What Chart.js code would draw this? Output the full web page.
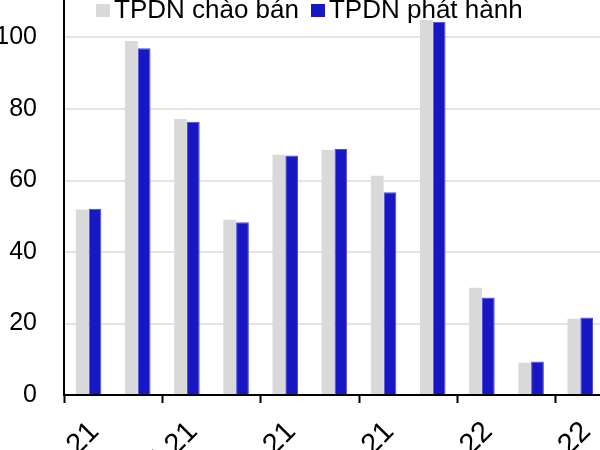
<!DOCTYPE html>
<html>
<head>
<meta charset="utf-8">
<script src="https://cdn.jsdelivr.net/npm/chart.js@4.4.0/dist/chart.umd.min.js"></script>
<style>
  html, body { margin: 0; padding: 0; width: 600px; height: 450px; overflow: hidden; background: #fff; }
  body { position: relative; }
  #wrap { position: absolute; left: -6px; top: -76px; width: 623px; height: 551px; }
  #legend { position: absolute; left: 96px; top: -1px; display: flex; font-family: "Liberation Sans", Arial, sans-serif; font-size: 26px; line-height: 20px; color: #000; white-space: nowrap; }
  .item { display: flex; align-items: center; margin-right: 12px; }
  .box { width: 14px; height: 13px; margin-right: 4px; position: relative; top: 1px; }
</style>
</head>
<body>
<div id="wrap"><canvas id="chart"></canvas></div>
<div id="legend"></div>
<script>
// monthly corporate bond volumes
const categories = ['May-21', 'Jun-21', 'Jul-21', 'Aug-21', 'Sep-21', 'Oct-21', 'Nov-21', 'Dec-21', 'Jan-22', 'Feb-22', 'Mar-22'];
const offered = [51.9, 99.0, 77.2, 49.0, 67.2, 68.5, 61.3, 104.9, 30.0, 9.0, 21.3];
const issued = [52.1, 97.0, 76.4, 48.3, 67.0, 68.8, 56.7, 104.4, 27.3, 9.4, 21.7];
const seriesNames = ['TPDN chào bán', 'TPDN phát hành'];
const seriesColors = ['#d9d9d9', '#1717c4'];
const yTicks = [0, 20, 40, 60, 80, 100, 120];

const font = { family: '"Liberation Sans", Arial, sans-serif', size: 25 };

// legend sits over the plot like the original, so it is plain html
const legendEl = document.getElementById('legend');
seriesNames.forEach(function (name, i) {
  const item = document.createElement('div');
  item.className = 'item';
  const box = document.createElement('span');
  box.className = 'box';
  box.style.background = seriesColors[i];
  item.appendChild(box);
  item.appendChild(document.createTextNode(name));
  legendEl.appendChild(item);
});

const ctx = document.getElementById('chart').getContext('2d');
const chart = new Chart(ctx, {
  type: 'bar',
  data: {
    labels: categories,
    datasets: [
      { label: seriesNames[0], data: offered, backgroundColor: seriesColors[0], borderWidth: 0 },
      { label: seriesNames[1], data: issued, backgroundColor: seriesColors[1], borderColor: '#4b4bd9', borderWidth: 1 }
    ]
  },
  options: {
    responsive: true,
    maintainAspectRatio: false,
    animation: false,
    layout: { padding: { top: 20, right: 3, left: 0, bottom: 0 } },
    datasets: { bar: { categoryPercentage: 0.52, barPercentage: 1.0 } },
    plugins: { legend: { display: false }, tooltip: { enabled: false } },
    scales: {
      x: {
        offset: true,
        afterFit: function (s) { s.height = 80; },
        border: { color: '#000', width: 2 },
        grid: {
          offset: true,
          drawOnChartArea: false,
          tickLength: 8,
          tickWidth: 2,
          tickColor: function (c) { return c.index % 2 === 0 ? '#000' : 'rgba(0,0,0,0)'; }
        },
        ticks: {
          autoSkip: false,
          minRotation: 45,
          maxRotation: 45,
          padding: 12,
          labelOffset: 6,
          color: '#000',
          font: { family: font.family, size: 29 },
          callback: function (v, i) { return i % 2 === 0 ? categories[i] : ''; }
        }
      },
      y: {
        min: 0,
        max: 120,
        afterFit: function (s) { s.width = 70; },
        afterBuildTicks: function (s) { s.ticks = yTicks.map(function (v) { return { value: v }; }); },
        border: { color: '#000', width: 2 },
        grid: { color: '#e4e4e4', lineWidth: 2, drawTicks: false },
        ticks: { padding: 27, color: '#000', font: font }
      }
    }
  }
});
</script>
</body>
</html>
